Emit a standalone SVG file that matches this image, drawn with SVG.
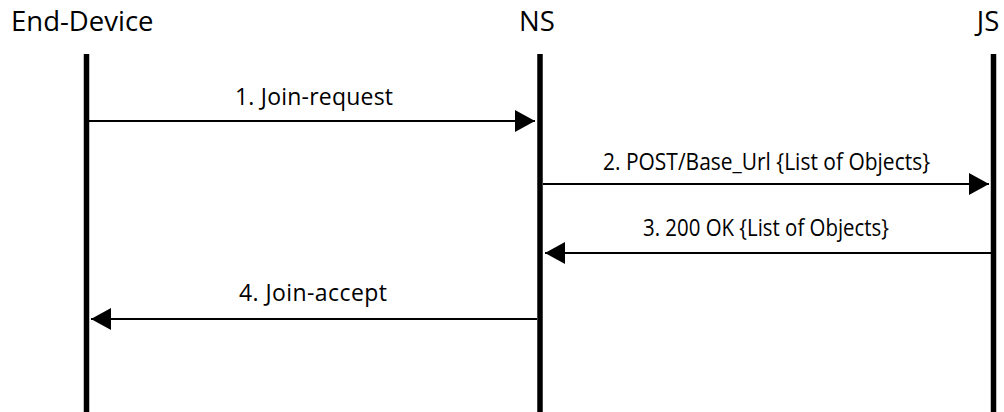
<svg xmlns="http://www.w3.org/2000/svg" width="1004" height="412" viewBox="0 0 1004 412">
  <style>
    .title { font-family: "Open Sans", "Noto Sans", "Liberation Sans", sans-serif; font-size: 27.5px; fill: #000; }
    .msg { font-family: "Open Sans", "Noto Sans", "Liberation Sans", sans-serif; font-size: 23px; fill: #000; text-anchor: middle; }
    .life { stroke: #000; stroke-width: 5.5; fill: none; }
    .arrow { stroke: #000; stroke-width: 2; fill: none; marker-end: url(#head); }
  </style>
  <defs>
    <marker id="head" markerUnits="userSpaceOnUse" markerWidth="20" markerHeight="22" viewBox="0 0 20 22" refX="20" refY="11" orient="auto">
      <polygon points="0,0 20,11 0,22" fill="#000"/>
    </marker>
  </defs>
  <rect width="1004" height="412" fill="#fff"/>

  <!-- participants with their lifelines -->
  <g id="end-device">
    <text class="title" x="11" y="30.7">End-Device</text>
    <line class="life" x1="86.5" y1="54" x2="86.5" y2="412"/>
  </g>
  <g id="ns">
    <text class="title" x="537" y="30.7" text-anchor="middle">NS</text>
    <line class="life" x1="540" y1="54" x2="540" y2="412"/>
  </g>
  <g id="js">
    <text class="title" x="988" y="30.7" text-anchor="middle">JS</text>
    <line class="life" x1="993.5" y1="54" x2="993.5" y2="412"/>
  </g>

  <!-- messages -->
  <g id="messages">
    <line class="arrow" x1="89" y1="121" x2="535" y2="121"/>
    <text class="msg" x="314" y="105" textLength="158">1. Join-request</text>

    <line class="arrow" x1="543" y1="184" x2="989" y2="184"/>
    <text class="msg" x="766.5" y="170" textLength="327" lengthAdjust="spacingAndGlyphs">2. POST/Base_Url {List of Objects}</text>

    <line class="arrow" x1="991" y1="253" x2="545" y2="253"/>
    <text class="msg" x="766" y="235.7" textLength="246" lengthAdjust="spacingAndGlyphs">3. 200 OK {List of Objects}</text>

    <line class="arrow" x1="537" y1="319" x2="91" y2="319"/>
    <text class="msg" x="313" y="300.7" textLength="148">4. Join-accept</text>
  </g>
</svg>
